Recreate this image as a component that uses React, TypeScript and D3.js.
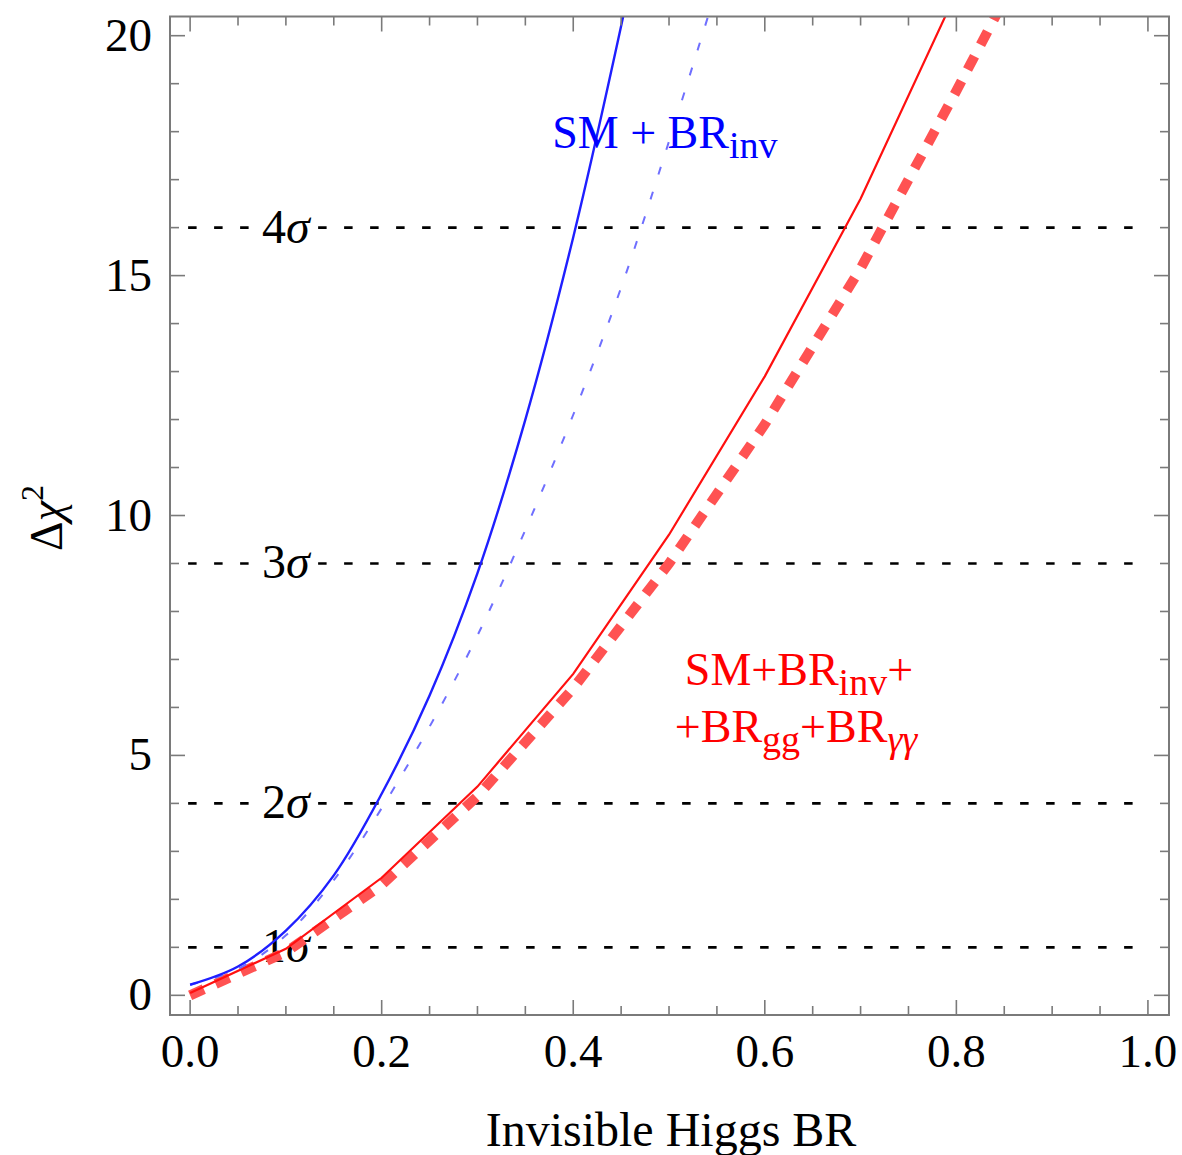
import React from "react";
import * as d3 from "d3";

const W = 1182;
const H = 1155;
// plot frame in pixels
const frame = { left: 170, right: 1169, top: 16.5, bottom: 1015 };

const xDomain: [number, number] = [-0.021, 1.022];
const yDomain: [number, number] = [-0.41, 20.4];

const xMajor = [0, 0.2, 0.4, 0.6, 0.8, 1.0];
const yMajor = [0, 5, 10, 15, 20];
const xMinorStep = 0.05;
const yMinorStep = 1;

const sigmaLevels = [1, 4, 9, 16];
const sigmaNames = ["1", "2", "3", "4"];

// SM + BR_inv (solid)
const blueSolid: [number, number][] = [
  [0, 0.22], [0.05, 0.6], [0.1, 1.35], [0.15, 2.5], [0.2, 4.2],
  [0.25, 6.25], [0.3, 8.8], [0.35, 12.0], [0.4, 15.8], [0.45, 20.2], [0.5, 25.0],
];
// SM + BR_inv (dashed)
const blueDashed: [number, number][] = [
  [0, 0.22], [0.05, 0.55], [0.1, 1.25], [0.15, 2.4], [0.2, 3.9],
  [0.25, 5.6], [0.3, 7.5], [0.35, 9.7], [0.4, 12.1], [0.45, 14.75],
  [0.5, 17.8], [0.55, 21.0],
];
// SM+BR_inv+BR_gg+BR_γγ (solid)
const redSolid: [number, number][] = [
  [0, 0.05], [0.1, 0.97], [0.2, 2.45], [0.3, 4.35], [0.4, 6.7],
  [0.5, 9.6], [0.6, 12.9], [0.7, 16.6], [0.8, 20.9],
];
// SM+BR_inv+BR_gg+BR_γγ (thick dashed)
const redDashed: [number, number][] = [
  [0, 0], [0.1, 0.9], [0.2, 2.3], [0.3, 4.15], [0.4, 6.4],
  [0.5, 9.0], [0.6, 11.9], [0.7, 15.15], [0.8, 18.85], [0.85, 20.75],
];

const serif = "'Liberation Serif', 'Times New Roman', serif";
const frameColor = "#7a7a7a";

const App = () => {
  const xScale = d3.scaleLinear().domain(xDomain).range([frame.left, frame.right]);
  const yScale = d3.scaleLinear().domain(yDomain).range([frame.bottom, frame.top]);

  const smoothLine = d3
    .line<[number, number]>()
    .x((d) => xScale(d[0]))
    .y((d) => yScale(d[1]))
    .curve(d3.curveCatmullRom);
  const straightLine = d3
    .line<[number, number]>()
    .x((d) => xScale(d[0]))
    .y((d) => yScale(d[1]));

  const xTicks = d3.range(0, 1.0001, xMinorStep);
  const yTicks = d3.range(0, 20.0001, yMinorStep);
  const isXMajor = (v: number) => xMajor.some((m) => Math.abs(m - v) < 1e-6);
  const isYMajor = (v: number) => yMajor.some((m) => Math.abs(m - v) < 1e-6);

  return (
    <svg
      width={W}
      height={H}
      style={{ position: "absolute", left: 0, top: 0, background: "#fff" }}
      fontFamily={serif}
    >
      <defs>
        <clipPath id="plot-clip">
          <rect
            x={frame.left}
            y={frame.top}
            width={frame.right - frame.left}
            height={frame.bottom - frame.top}
          />
        </clipPath>
      </defs>

      {/* sigma reference lines */}
      {sigmaLevels.map((lv) => (
        <line
          key={"g" + lv}
          x1={xScale(0) - 2}
          x2={xScale(1)}
          y1={yScale(lv)}
          y2={yScale(lv)}
          stroke="#000"
          strokeWidth={2.6}
          strokeDasharray="8.5 17.5"
        />
      ))}
      {sigmaLevels.map((lv, i) => (
        <g key={"s" + lv} transform={`translate(${xScale(0.1)},${yScale(lv)})`}>
          <rect x={-29} y={-17} width={58} height={34} fill="#fff" />
          <text textAnchor="middle" y={15} fontSize={48} fill="#000">
            {sigmaNames[i]}
            <tspan fontStyle="italic">σ</tspan>
          </text>
        </g>
      ))}

      {/* curves */}
      <g clipPath="url(#plot-clip)" fill="none">
        <path
          d={straightLine(redDashed) ?? ""}
          stroke="#ff5252"
          strokeWidth={10}
          strokeDasharray="15 13"
        />
        <path d={straightLine(redSolid) ?? ""} stroke="#ff1010" strokeWidth={2.2} />
        <path
          d={smoothLine(blueDashed) ?? ""}
          stroke="#6f6fff"
          strokeWidth={2}
          strokeDasharray="8 18"
        />
        <path d={smoothLine(blueSolid) ?? ""} stroke="#1f1fff" strokeWidth={2.4} />
      </g>

      {/* frame */}
      <rect
        x={frame.left}
        y={frame.top}
        width={frame.right - frame.left}
        height={frame.bottom - frame.top}
        fill="none"
        stroke={frameColor}
        strokeWidth={2}
      />
      {xTicks.map((t, i) => {
        const len = isXMajor(t) ? 15 : 9;
        const x = xScale(t);
        return (
          <g key={"xt" + i} stroke={frameColor} strokeWidth={1.6}>
            <line x1={x} x2={x} y1={frame.bottom} y2={frame.bottom - len} />
            <line x1={x} x2={x} y1={frame.top} y2={frame.top + len} />
          </g>
        );
      })}
      {yTicks.map((t, i) => {
        const len = isYMajor(t) ? 15 : 9;
        const y = yScale(t);
        return (
          <g key={"yt" + i} stroke={frameColor} strokeWidth={1.6}>
            <line x1={frame.left} x2={frame.left + len} y1={y} y2={y} />
            <line x1={frame.right} x2={frame.right - len} y1={y} y2={y} />
          </g>
        );
      })}

      {/* tick labels */}
      {xMajor.map((t) => (
        <text key={"xl" + t} x={xScale(t)} y={1067} textAnchor="middle" fontSize={47}>
          {d3.format(".1f")(t)}
        </text>
      ))}
      {yMajor.map((t) => (
        <text key={"yl" + t} x={152} y={yScale(t) + 15} textAnchor="end" fontSize={47}>
          {t}
        </text>
      ))}

      {/* axis titles */}
      <text x={671} y={1146} textAnchor="middle" fontSize={48}>
        Invisible Higgs BR
      </text>
      <text transform="translate(62,518) rotate(-90)" textAnchor="middle" fontSize={46}>
        Δ<tspan fontStyle="italic">χ</tspan>
        <tspan fontSize={32} dy={-19}>2</tspan>
      </text>

      {/* curve labels */}
      <text x={xScale(0.378)} y={yScale(17.65)} fontSize={46} fill="#0000ff">
        SM + BR<tspan fontSize={38} dy={10}>inv</tspan>
      </text>
      <text x={xScale(0.5165)} y={yScale(6.47)} fontSize={46} fill="#ff0000">
        SM+BR<tspan fontSize={38} dy={10}>inv</tspan>
        <tspan dy={-10}>+</tspan>
      </text>
      <text x={xScale(0.506)} y={yScale(5.28)} fontSize={46} fill="#ff0000">
        +BR<tspan fontSize={38} dy={10}>gg</tspan>
        <tspan dy={-10}>+BR</tspan>
        <tspan fontSize={38} dy={10} fontStyle="italic">γγ</tspan>
      </text>
    </svg>
  );
};

export default App;
